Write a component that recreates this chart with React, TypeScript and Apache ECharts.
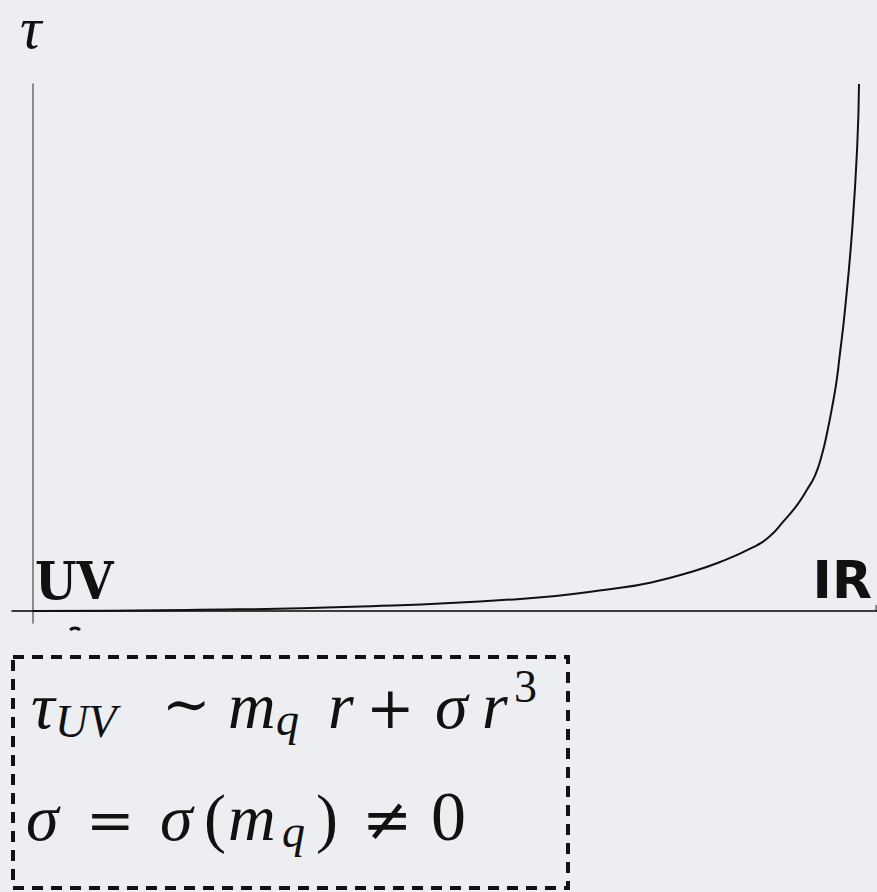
import React, { useEffect, useRef } from "react";
import * as echarts from "echarts";

// Scaled distance r (0 = UV end, 1 = IR end) and the profile tau(r)
const rValues = [0, 0.186, 0.387, 0.59, 0.711, 0.751, 0.792, 0.832, 0.872, 0.892, 0.908, 0.925, 0.937, 0.947, 0.955, 0.962, 0.969, 0.973, 0.976, 0.983, 0.992, 0.998, 1.0];
const tauValues = [0, 0.002, 0.008, 0.023, 0.044, 0.055, 0.072, 0.093, 0.121, 0.142, 0.169, 0.201, 0.23, 0.258, 0.296, 0.343, 0.4, 0.438, 0.476, 0.571, 0.729, 0.888, 1.0];

const axisName = "τ";
const endLabels = ["UV", "IR"];

const INK = "#111111";
const BG = "#eceef1";
const SERIF = "'Liberation Serif', 'DejaVu Serif', serif";
const MATHSYM = "'DejaVu Serif', serif";

// Offset of the central baseline above the alphabetic one, per font (fraction of font size)
const CENTRAL: Record<string, number> = {
  serif: 0.3375,
  dejavu: 0.346,
  sans: 0.346,
};

type PieceOpts = {
  italic?: boolean;
  family?: string;
  kind?: string;
  weight?: string;
  align?: string;
  scaleX?: number;
};

function piece(text: string, x: number, baseline: number, size: number, o: PieceOpts = {}) {
  const kind = o.kind ?? "serif";
  return {
    type: "text",
    x,
    y: baseline - CENTRAL[kind] * size,
    scaleX: o.scaleX ?? 1,
    silent: true,
    style: {
      text,
      fontSize: size,
      lineHeight: Math.round(size * 0.8),
      fontFamily: o.family ?? SERIF,
      fontStyle: o.italic ? "italic" : "normal",
      fontWeight: o.weight ?? "normal",
      fill: INK,
      align: o.align ?? "left",
      verticalAlign: "middle",
    },
  };
}

export default function App() {
  const ref = useRef<HTMLDivElement>(null);

  useEffect(() => {
    if (!ref.current) return;
    const chart = echarts.init(ref.current, undefined, { renderer: "svg" });

    const S = 66; // main formula size
    const s = 46; // sub/superscript size
    const B1 = 728;
    const B2 = 840;

    const formula = [
      // tau_UV ~ m_q r + sigma r^3
      piece("τ", 31, B1, S, { italic: true }),
      piece("UV", 55, B1 + 9, s, { italic: true }),
      piece("∼", 162, B1 - 4, 58, { family: MATHSYM, kind: "dejavu" }),
      piece("m", 228, B1, S, { italic: true }),
      piece("q", 276, B1 + 7, s, { italic: true }),
      piece("r", 328, B1, S, { italic: true }),
      piece("+", 366, B1, 58, { family: MATHSYM, kind: "dejavu" }),
      piece("σ", 435, B1, S, { italic: true }),
      piece("r", 482, B1, S, { italic: true }),
      piece("3", 514, 702, s),
      // sigma = sigma(m_q) != 0
      piece("σ", 26, B2, S, { italic: true }),
      piece("=", 86, B2, 58, { family: MATHSYM, kind: "dejavu" }),
      piece("σ", 160, B2, S, { italic: true }),
      piece("(", 204, B2, S),
      piece("m", 228, B2, S, { italic: true }),
      piece("q", 282, B2 + 7, s, { italic: true }),
      piece(")", 316, B2, S),
      piece("≠", 362, B2, 60, { family: MATHSYM, kind: "dejavu" }),
      piece("0", 431, B2, 70),
    ];

    chart.setOption({
      animation: false,
      backgroundColor: BG,
      grid: { left: 12, right: 0, top: 84, bottom: 269, containLabel: false, outerBoundsMode: "none" },
      xAxis: {
        type: "value",
        min: -21 / 826,
        max: 844 / 826,
        axisLine: { show: true, onZero: true, lineStyle: { color: "#000", width: 1.5 } },
        axisTick: { show: false },
        axisLabel: { show: false },
        splitLine: { show: false },
      },
      yAxis: {
        type: "value",
        min: -12 / 527,
        max: 1,
        axisLine: { show: true, onZero: true, lineStyle: { color: "#6a6a6a", width: 1.5 } },
        axisTick: { show: false },
        axisLabel: { show: false },
        splitLine: { show: false },
      },
      series: [
        {
          type: "line",
          data: rValues.map((r, i) => [r, tauValues[i]]),
          showSymbol: false,
          symbol: "none",
          smooth: 0.5,
          lineStyle: { color: INK, width: 2 },
          z: 3,
        },
      ],
      graphic: [
        piece(axisName, 20, 48, 60, { italic: true }),
        piece(endLabels[0], 35, 599, 53, {
          family: "'DejaVu Serif', serif",
          kind: "dejavu",
          weight: "bold",
          scaleX: 0.9,
        }),
        piece(endLabels[1], 872, 598, 52, { family: "'DejaVu Sans', sans-serif", kind: "sans", weight: "bold", align: "right" }),
        // small tick at the right end of the r axis
        { type: "line", silent: true, shape: { x1: 876, y1: 605, x2: 876, y2: 611 }, style: { stroke: "#6a6a6a", lineWidth: 1.5 } },
        // clipped glyph stub under the UV end
        {
          type: "arc",
          silent: true,
          shape: { cx: 75, cy: 635, r: 7, startAngle: Math.PI * 1.25, endAngle: Math.PI * 1.75 },
          style: { stroke: INK, lineWidth: 3, fill: "none" },
        },
        // dashed frame around the formulas
        {
          type: "rect",
          silent: true,
          shape: { x: 13, y: 657, width: 555, height: 231 },
          style: { fill: "none", stroke: INK, lineWidth: 4, lineDash: [11, 8] },
        },
        ...formula,
      ],
    });

    return () => chart.dispose();
  }, []);

  return (
    <div
      ref={ref}
      style={{ position: "fixed", left: 0, top: 0, width: 877, height: 892, background: BG }}
    />
  );
}
